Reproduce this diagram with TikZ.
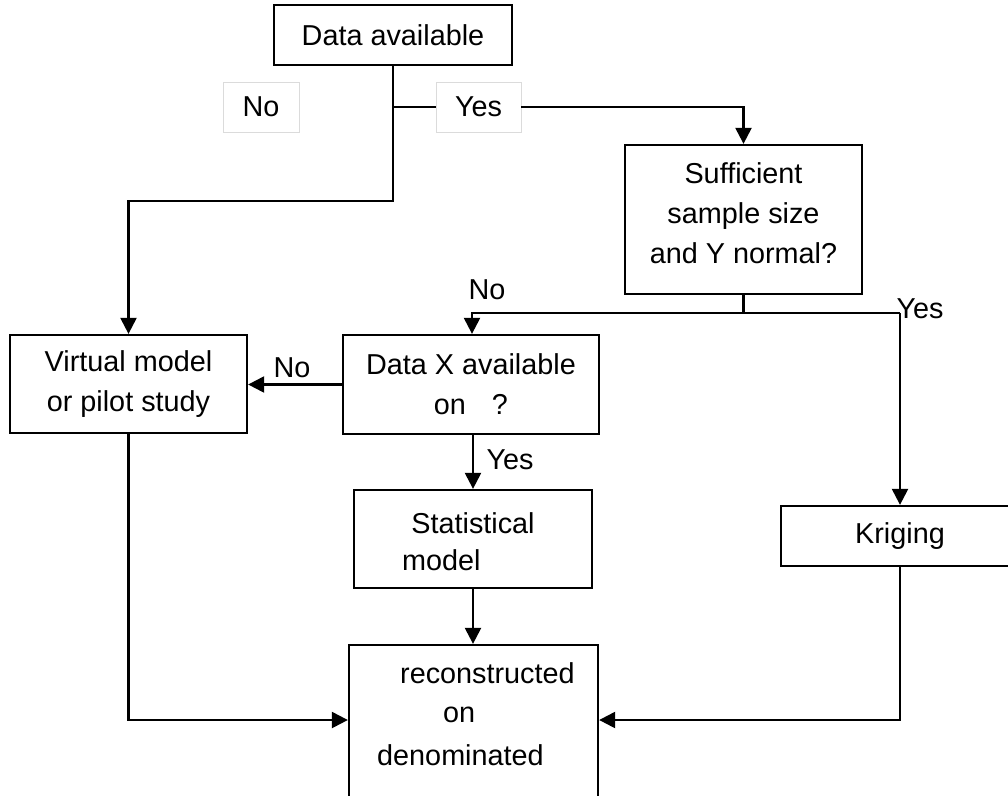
\documentclass[tikz,border=0pt]{standalone}
\usepackage{fontspec}
\setmainfont{Liberation Sans}
\usetikzlibrary{arrows.meta,calc}
\tikzset{
  txt/.style={font=\fontsize{28.8}{40}\selectfont, inner sep=0pt},
  box/.style={txt, draw, line width=2.3pt, align=center},
  lbl/.style={txt, draw=black!14, line width=0.8pt, fill=white},
  conn/.style={line width=2.3pt},
  arr/.style={line width=2.3pt, -{Triangle[length=16pt,width=16pt]}},
}
\begin{document}
\begin{tikzpicture}[x=1pt,y=-1pt]
\useasboundingbox (0,0) rectangle (1008,795);
\clip (0,0) rectangle (1008,795);
% boxes
\node[box, minimum width=238pt, minimum height=60pt] (da) at (393,35) {Data available};
\node[lbl, minimum width=76pt, minimum height=50pt] (noT) at (261,107) {No};
\node[lbl, minimum width=85pt, minimum height=50pt] (yesT) at (478.5,107) {Yes};
\node[box, minimum width=237pt, minimum height=149pt] (suf) at (743.5,219.5) {};
\node[txt, align=center] (suft) at (743.5,213) {Sufficient\\sample size\\and Y normal?};
\node[box, minimum width=256pt, minimum height=99pt] (dx) at (471,384.5) {Data X available\\on\hspace{26pt}?};
\node[box, minimum width=237pt, minimum height=98pt] (vm) at (128.5,384) {Virtual model\\or pilot study};
\node[box, minimum width=238pt, minimum height=98pt] (st) at (473,539) {};
\node[txt] (st1) at (473,523) {Statistical};
\node[txt, anchor=west] (st2) at (402,560) {model};
\node[box, minimum width=249pt, minimum height=200pt] (rc) at (473.5,745) {};
\node[txt, anchor=west] (rc1) at (400,673) {reconstructed};
\node[txt, anchor=west] (rc2) at (443,715) {on};
\node[txt, anchor=west] (rc3) at (377,755) {denominated};
\node[box, minimum width=231pt, minimum height=60pt] (kr) at (896.5,536) {};
\node[txt] (krt) at (900,536) {Kriging};
% labels
\node[txt] (noA) at (487,290) {No};
\node[txt] (yesA) at (920,309) {Yes};
\node[txt] (noB) at (292,368) {No};
\node[txt] (yesB) at (510,460) {Yes};
% coordinates
\coordinate (j3) at (128.5,201);
\coordinate (bL) at (472,313);
\coordinate (bR) at (900,313);
\coordinate (lowL) at (128.5,720);
\coordinate (lowR) at (900,720);
\coordinate (mX) at (473,0);
% connectors
\draw[arr] (da.south) |- (j3) -- (vm.north);
\draw[conn] (da.south |- yesT.west) -- (yesT.west);
\draw[arr] (yesT.east) -| (suf.north);
\draw[conn] (suf.south) -- (suf.south |- bR);
\draw[arr] (bR) -- (bL) -- (bL |- dx.north);
\draw[arr] (bR) -- (bR |- kr.north);
\draw[arr] (dx.west) -- (dx.west -| vm.east);
\draw[arr] (mX |- dx.south) -- (st.north);
\draw[arr] (st.south) -- (st.south |- rc.north);
\draw[arr] (vm.south) -- (lowL) -- (lowL -| rc.west);
\draw[arr] (bR |- kr.south) -- (lowR) -- (lowR -| rc.east);
\end{tikzpicture}
\end{document}
